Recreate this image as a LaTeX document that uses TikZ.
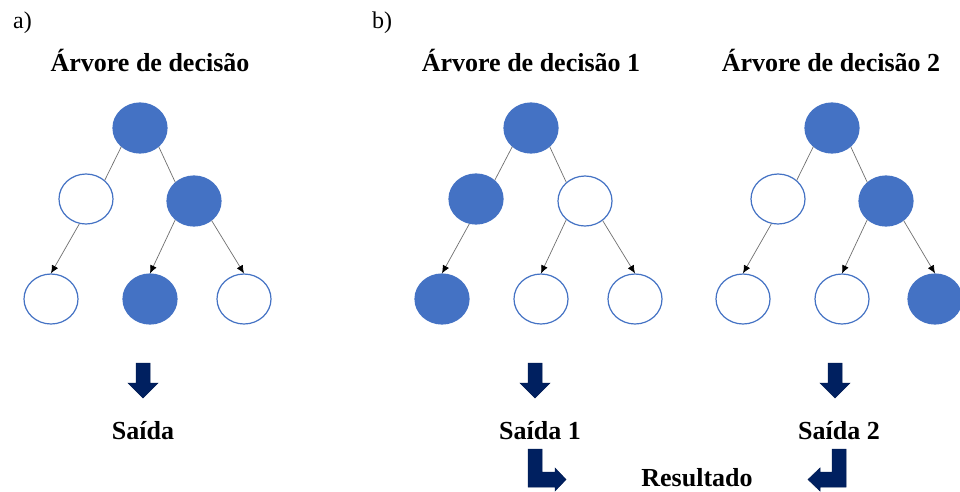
\documentclass[tikz,border=0pt]{standalone}
\usepackage{fontspec}
\setmainfont{Liberation Serif}
\usetikzlibrary{shapes.geometric,arrows.meta}
\definecolor{nodeblue}{HTML}{4472C4}
\definecolor{navyfill}{HTML}{002060}
\definecolor{edgegray}{HTML}{707070}
\tikzset{
 tnode/.style={ellipse, minimum width=54pt, minimum height=50pt, inner sep=0pt, draw=nodeblue, line width=1.2pt},
 fullnode/.style={tnode, fill=nodeblue},
 emptynode/.style={tnode, fill=white},
 link/.style={draw=edgegray, line width=0.7pt},
 arrowlink/.style={link, -{Latex[length=8pt,width=7pt,color=black]}},
 title/.style={font=\fontsize{26}{30}\selectfont\bfseries, anchor=base, inner sep=0pt},
 panel/.style={font=\fontsize{24}{28}\selectfont, anchor=base west, inner sep=0pt},
 blockarrow/.style={fill=navyfill, draw=navyfill!85!black, line width=0.5pt, line join=miter}
}
\begin{document}
\begin{tikzpicture}[x=1pt,y=-1pt]
\useasboundingbox (0,0) rectangle (960,491);
\fill[white] (0,0) rectangle (960,491);

% panel labels
\node[panel] (la) at (13,28) {a)};
\node[panel] (lb) at (372,28) {b)};

% titles
\node[title] (ta) at (150,71) {Árvore de decisão};
\node[title] (tb1) at (531,71) {Árvore de decisão 1};
\node[title] (tb2) at (831,71) {Árvore de decisão 2};

% tree a
\node[fullnode]  (a0) at (140,128) {};
\node[emptynode] (a1) at (86,199) {};
\node[fullnode]  (a2) at (194,201) {};
\node[emptynode] (a3) at (51,299) {};
\node[fullnode]  (a4) at (150,299) {};
\node[emptynode] (a5) at (244,299) {};
\draw[link] (a0.225) -- (a1.45);
\draw[link] (a0.315) -- (a2.135);
\draw[arrowlink] (a1.255) -- (a3.north);
\draw[arrowlink] (a2.225) -- (a4.north);
\draw[arrowlink] (a2.312) -- (a5.north);

% tree b1
\node[fullnode]  (b0) at (531,128) {};
\node[fullnode]  (b1) at (476,199) {};
\node[emptynode] (b2) at (585,201) {};
\node[fullnode]  (b3) at (442,299) {};
\node[emptynode] (b4) at (541,299) {};
\node[emptynode] (b5) at (635,299) {};
\draw[link] (b0.225) -- (b1.45);
\draw[link] (b0.315) -- (b2.135);
\draw[arrowlink] (b1.255) -- (b3.north);
\draw[arrowlink] (b2.225) -- (b4.north);
\draw[arrowlink] (b2.312) -- (b5.north);

% tree b2
\node[fullnode]  (c0) at (832,128) {};
\node[emptynode] (c1) at (778,199) {};
\node[fullnode]  (c2) at (886,201) {};
\node[emptynode] (c3) at (743,299) {};
\node[emptynode] (c4) at (842,299) {};
\node[fullnode]  (c5) at (935,299) {};
\draw[link] (c0.225) -- (c1.45);
\draw[link] (c0.315) -- (c2.135);
\draw[arrowlink] (c1.255) -- (c3.north);
\draw[arrowlink] (c2.225) -- (c4.north);
\draw[arrowlink] (c2.312) -- (c5.north);

% down block arrows
\foreach \cx in {143,535,835}{
  \begin{scope}[shift={(\cx,0)}]
    \path[blockarrow] (-7,363) -- (7,363) -- (7,383) -- (15,383) -- (0,398) -- (-15,383) -- (-7,383) -- cycle;
  \end{scope}
}

% outputs
\node[title] (sa) at (143,439) {Saída};
\node[title] (s1) at (540,439) {Saída 1};
\node[title] (s2) at (839,439) {Saída 2};
\node[title] (res) at (697,486) {Resultado};

% bent arrows
\path[blockarrow] (528,449) -- (542,449) -- (542,472) -- (555,472) -- (555,468) -- (566,479.5) -- (555,491) -- (555,487) -- (528,487) -- cycle;
\path[blockarrow] (846,449) -- (832,449) -- (832,472) -- (820,472) -- (820,468) -- (808,479.5) -- (820,491) -- (820,487) -- (846,487) -- cycle;
\end{tikzpicture}
\end{document}
